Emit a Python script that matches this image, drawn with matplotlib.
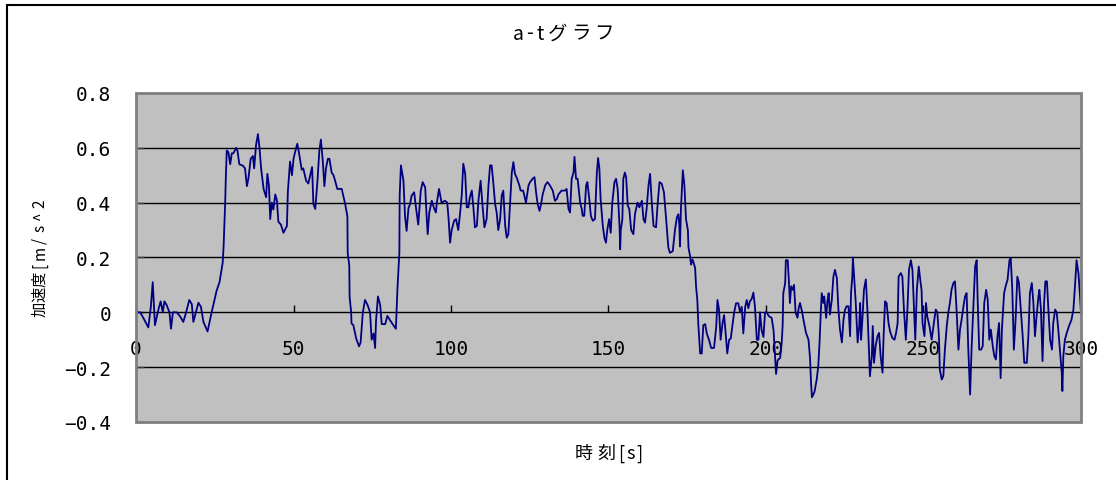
import matplotlib
matplotlib.use('Agg')
import matplotlib.pyplot as plt
from matplotlib.patches import Rectangle

plt.rcParams['font.family'] = ['Noto Sans CJK JP', 'DejaVu Sans']

# time [s] and acceleration [m/s^2]
t = [0.0, 1.3, 2.3, 3.9, 4.7, 5.3, 5.7, 6.0, 7.1, 7.8, 8.5, 9.0, 9.7, 10.6, 11.1, 11.7,
     12.9, 14.0, 15.0, 15.9, 16.9, 17.7, 18.2, 19.0, 19.8, 20.6, 21.4, 22.7, 24.0, 25.6,
     26.5, 27.5, 27.8, 28.3, 28.5, 28.8, 29.3, 29.9, 30.4, 30.9, 31.8, 32.2, 32.8, 33.9,
     34.6, 35.2, 35.7, 36.4, 37.1, 37.5, 38.1, 38.7, 39.2, 39.7, 40.5, 41.3, 41.7, 42.2,
     42.6, 43.1, 43.6, 44.2, 44.7, 45.2, 46.0, 46.8, 47.9, 48.2, 48.9, 49.5, 50.0, 50.5,
     51.2, 51.9, 52.6, 53.1, 54.0, 54.7, 55.5, 55.9, 56.3, 56.9, 57.6, 58.2, 58.7, 59.3,
     59.8, 60.3, 60.9, 61.4, 62.1, 62.7, 63.2, 63.9, 65.3, 66.4, 67.1, 67.2, 67.7, 67.8,
     68.3, 68.4, 69.0, 69.9, 70.8, 71.3, 72.0, 72.7, 73.5, 74.3, 74.8, 75.4, 75.9, 76.2,
     76.8, 77.5, 78.0, 79.1, 79.8, 80.6, 81.7, 82.5, 83.0, 83.4, 83.6, 83.7, 84.1, 84.9,
     85.4, 85.9, 86.5, 87.0, 87.5, 88.3, 88.9, 89.6, 90.4, 91.0, 91.8, 92.3, 92.6, 93.1,
     93.9, 94.6, 95.2, 95.5, 96.2, 97.0, 98.1, 98.8, 99.2, 99.7, 100.2, 101.0, 101.6, 102.3,
     102.9, 103.4, 103.9, 104.5, 105.0, 105.5, 106.0, 106.6, 107.1, 107.6, 108.2, 108.7,
     109.4, 110.0, 110.6, 111.3, 111.9, 112.4, 112.9, 113.5, 114.0, 114.5, 115.0, 115.6,
     116.1, 116.6, 117.2, 117.7, 118.2, 118.7, 119.3, 119.8, 120.3, 120.9, 121.7, 122.1,
     122.9, 123.8, 124.6, 125.1, 125.9, 126.5, 127.0, 127.5, 128.1, 128.6, 129.1, 129.9,
     130.6, 131.4, 132.3, 133.0, 133.6, 134.1, 135.1, 136.2, 136.7, 137.3, 137.8, 138.3,
     138.9, 139.2, 139.7, 140.2, 141.0, 141.5, 141.8, 142.3, 142.9, 143.3, 143.9, 144.4,
     145.0, 145.7, 146.3, 146.7, 147.1, 147.5, 148.2, 148.7, 149.2, 149.6, 150.2, 150.7,
     151.2, 151.9, 152.4, 152.9, 153.5, 153.7, 153.9, 154.4, 154.7, 155.2, 155.6, 156.1,
     156.6, 157.2, 157.9, 158.4, 159.2, 159.8, 160.6, 161.1, 161.6, 162.1, 162.7, 163.2,
     163.7, 164.3, 165.1, 165.6, 166.2, 166.9, 167.6, 168.3, 169.0, 169.5, 170.4, 171.1,
     171.7, 172.2, 172.5, 172.7, 173.0, 173.6, 174.1, 174.6, 175.2, 175.4, 175.9, 176.2,
     176.7, 177.5, 177.8, 178.2, 178.5, 179.1, 179.6, 180.1, 180.7, 181.2, 181.9, 182.6,
     183.5, 184.2, 184.6, 185.1, 185.6, 186.2, 186.7, 187.2, 187.7, 188.3, 188.8, 189.3,
     189.9, 190.5, 191.2, 191.8, 192.3, 192.8, 193.4, 193.9, 194.4, 194.9, 195.5, 196.0,
     196.5, 197.1, 197.6, 198.1, 198.6, 199.2, 199.7, 200.2, 201.0, 201.8, 202.4, 202.9,
     203.2, 203.7, 204.5, 205.0, 205.3, 205.5, 206.1, 206.3, 206.9, 207.3, 207.6, 208.0,
     208.5, 208.9, 209.4, 210.0, 210.4, 210.8, 211.5, 211.9, 212.7, 213.5, 214.0, 214.3,
     214.6, 215.4, 216.1, 216.6, 217.0, 217.4, 217.7, 218.2, 218.5, 219.1, 219.5, 219.9,
     220.3, 220.9, 221.4, 221.9, 222.5, 223.0, 223.5, 224.1, 224.6, 225.1, 225.6, 226.2,
     226.7, 227.0, 227.4, 227.6, 228.1, 228.5, 228.8, 229.1, 229.6, 229.9, 230.2, 230.6,
     231.1, 231.7, 232.2, 232.7, 233.0, 233.6, 233.9, 234.3, 234.8, 235.4, 235.9, 236.4,
     237.0, 237.3, 237.8, 238.3, 238.9, 239.4, 240.1, 240.8, 241.3, 241.8, 242.1, 242.8,
     243.3, 243.8, 244.4, 244.9, 245.4, 246.0, 246.5, 247.0, 247.4, 247.9, 248.5, 249.1,
     249.4, 249.7, 250.3, 250.8, 251.2, 251.9, 252.6, 253.3, 253.9, 254.4, 254.9, 255.2,
     255.8, 256.3, 256.8, 257.4, 257.9, 258.4, 258.9, 259.5, 260.0, 260.5, 261.1, 261.6,
     262.1, 262.7, 263.2, 263.7, 264.2, 264.8, 265.3, 265.8, 266.4, 266.9, 267.2, 267.7,
     268.3, 268.8, 269.3, 269.9, 270.4, 270.9, 271.4, 272.0, 272.5, 273.0, 273.5, 274.0,
     274.5, 274.9, 275.6, 276.2, 276.7, 277.3, 277.7, 278.2, 278.7, 279.3, 279.8, 280.3,
     280.9, 281.5, 282.0, 282.8, 283.3, 283.8, 284.4, 284.9, 285.4, 285.9, 286.5, 286.8,
     287.3, 287.8, 288.3, 288.7, 289.2, 289.6, 290.2, 290.8, 291.2, 291.8, 292.3, 292.8,
     293.3, 293.9, 294.1, 294.4, 294.9, 295.5, 296.2, 297.0, 297.6, 298.1, 298.6, 299.2,
     299.7, 300.0]

accel = [0.0, 0.0, -0.02, -0.055, 0.02, 0.11, 0.02, -0.047, 0.01, 0.04, 0.0, 0.04, 0.027, 0.0, -0.06, 0.0,
         0.0, -0.015, -0.035, 0.0, 0.045, 0.03, -0.035, 0.0, 0.035, 0.02, -0.035, -0.07, 0.0, 0.08,
         0.11, 0.18, 0.24, 0.40, 0.49, 0.59, 0.585, 0.54, 0.58, 0.58, 0.60, 0.59, 0.54, 0.535,
         0.525, 0.46, 0.49, 0.56, 0.57, 0.525, 0.61, 0.65, 0.60, 0.525, 0.45, 0.42, 0.505, 0.46,
         0.34, 0.40, 0.375, 0.43, 0.41, 0.33, 0.32, 0.29, 0.315, 0.44, 0.55, 0.50, 0.56, 0.585,
         0.615, 0.57, 0.52, 0.525, 0.48, 0.47, 0.51, 0.53, 0.395, 0.377, 0.48, 0.59, 0.63, 0.55,
         0.46, 0.525, 0.56, 0.56, 0.51, 0.50, 0.48, 0.45, 0.45, 0.395, 0.35, 0.217, 0.17, 0.058,
         0.0, -0.04, -0.047, -0.096, -0.124, -0.11, 0.0, 0.045, 0.027, 0.0, -0.10, -0.077, -0.13, -0.03,
         0.058, 0.027, -0.043, -0.043, -0.013, -0.028, -0.047, -0.06, 0.088, 0.17, 0.217, 0.426, 0.536, 0.48,
         0.35, 0.297, 0.38, 0.395, 0.426, 0.438, 0.38, 0.32, 0.444, 0.475, 0.456, 0.34, 0.285, 0.364,
         0.407, 0.38, 0.364, 0.40, 0.45, 0.40, 0.407, 0.40, 0.346, 0.254, 0.30, 0.334, 0.34, 0.30,
         0.364, 0.426, 0.542, 0.505, 0.383, 0.383, 0.42, 0.444, 0.383, 0.31, 0.315, 0.407,
         0.48, 0.39, 0.31, 0.34, 0.463, 0.536, 0.536, 0.463, 0.395, 0.364, 0.30, 0.34,
         0.426, 0.444, 0.315, 0.272, 0.285, 0.39, 0.51, 0.548, 0.505, 0.49, 0.463, 0.444,
         0.444, 0.40, 0.463, 0.475, 0.487, 0.493, 0.438, 0.395, 0.37, 0.395, 0.43, 0.463,
         0.475, 0.463, 0.444, 0.407, 0.413, 0.43, 0.444, 0.444, 0.45, 0.377, 0.364, 0.487,
         0.51, 0.567, 0.487, 0.487, 0.40, 0.377, 0.352, 0.352, 0.463, 0.475, 0.413, 0.352,
         0.334, 0.34, 0.51, 0.563, 0.524, 0.413, 0.315, 0.272, 0.254, 0.30, 0.34, 0.29,
         0.40, 0.475, 0.487, 0.45, 0.315, 0.23, 0.30, 0.34, 0.487, 0.51, 0.493, 0.39,
         0.377, 0.30, 0.285, 0.358, 0.40, 0.383, 0.407, 0.34, 0.327, 0.377, 0.463, 0.505,
         0.407, 0.315, 0.31, 0.395, 0.475, 0.469, 0.438, 0.34, 0.236, 0.217, 0.223, 0.30,
         0.346, 0.358, 0.315, 0.24, 0.377, 0.518, 0.463, 0.34, 0.30, 0.236, 0.205, 0.174,
         0.193, 0.162, 0.094, 0.045, -0.04, -0.15, -0.15, -0.047, -0.043, -0.077, -0.10, -0.13,
         -0.13, -0.053, 0.045, 0.009, -0.10, -0.04, -0.01, -0.077, -0.15, -0.10, -0.096, -0.053,
         0.0, 0.033, 0.033, 0.0, 0.02, -0.077, 0.02, 0.045, 0.015, 0.04, 0.05, 0.072,
         0.02, -0.10, -0.10, 0.0, -0.065, -0.09, 0.0, 0.0, -0.015, -0.02, -0.065, -0.163,
         -0.225, -0.175, -0.166, -0.11, -0.045, 0.07, 0.107, 0.19, 0.19, 0.107, 0.034, 0.095,
         0.082, 0.10, 0.0, -0.02, 0.016, 0.034, 0.0, -0.027, -0.075, -0.10, -0.17, -0.257,
         -0.31, -0.29, -0.245, -0.196, -0.11, 0.0, 0.07, 0.034, 0.058, -0.02, 0.04, 0.07,
         -0.008, 0.046, 0.13, 0.155, 0.125, 0.01, -0.063, -0.11, -0.027, 0.01, 0.022, 0.022,
         -0.087, 0.07, 0.13, 0.20, 0.107, 0.034, -0.039, -0.11, -0.05, 0.034, -0.10, -0.027,
         0.082, 0.12, 0.01, -0.136, -0.233, -0.16, -0.05, -0.184, -0.124, -0.087, -0.075, -0.16,
         -0.22, -0.10, 0.04, 0.034, -0.039, -0.07, -0.093, -0.10, -0.075, -0.039, 0.13, 0.143,
         0.13, 0.01, -0.10, 0.01, 0.155, 0.19, 0.155, 0.01, -0.10, 0.082, 0.167, 0.107,
         0.082, -0.039, -0.087, 0.034, -0.015, -0.05, -0.10, -0.039, 0.01, 0.0, -0.087, -0.21,
         -0.245, -0.233, -0.136, -0.05, 0.0, 0.034, 0.082, 0.107, 0.113, 0.01, -0.136, -0.063,
         -0.027, 0.022, 0.058, 0.07, -0.124, -0.30, -0.124, 0.01, 0.167, 0.19, 0.046, -0.136,
         -0.136, -0.124, 0.034, 0.082, 0.046, -0.10, -0.063, -0.124, -0.16, -0.172, -0.087, -0.039,
         -0.24, -0.063, 0.07, 0.10, 0.119, 0.19, 0.198, 0.082, -0.136, -0.015, 0.13, 0.107,
         0.01, -0.087, -0.184, -0.184, -0.087, 0.07, 0.107, 0.034, -0.087, -0.015, 0.058, 0.082,
         0.01, -0.178, 0.034, 0.113, 0.113, 0.022, -0.10, -0.136, -0.039, 0.01, 0.0, -0.063,
         -0.136, -0.22, -0.287, -0.16, -0.10, -0.075, -0.05, -0.027, 0.01, 0.095, 0.19, 0.143,
         0.058, 0.0]

xticks = [0, 50, 100, 150, 200, 250, 300]
yticks = [-0.4, -0.2, 0, 0.2, 0.4, 0.6, 0.8]
ytick_labels = ['−0.4', '−0.2', '0', '0.2', '0.4', '0.6', '0.8']
title = 'a-tグラフ'
xlabel = '時刻[s]'
ylabel = '加速度[m/s^2'  # cut off like this in the original

W, H = 1116, 481
fig = plt.figure(figsize=(W / 100, H / 100), dpi=100)
ax = fig.add_axes([0.1219, 0.1206, 0.8467, 0.684])
ax.set_facecolor('#c0c0c0')

for y in [-0.2, 0.2, 0.4, 0.6]:
    ax.axhline(y, color='black', lw=1.0, zorder=1)

ax.plot(t, accel, color='#000080', lw=1.3, zorder=3)

ax.set_xlim(0, 300)
ax.set_ylim(-0.4, 0.8)
ax.set_xticks(xticks)
ax.set_yticks(yticks)
ax.set_yticklabels(ytick_labels)

# x axis sits on the zero line, excel style
for s in ['top', 'right', 'left']:
    ax.spines[s].set_visible(False)
ax.spines['bottom'].set_position(('data', 0))
ax.spines['bottom'].set_color('black')
ax.spines['bottom'].set_linewidth(1.0)
ax.spines['bottom'].set_zorder(2)
ax.add_patch(Rectangle((0, 0), 1, 1, transform=ax.transAxes, fill=False,
                       edgecolor='#808080', lw=2.0, clip_on=False, zorder=4))

ax.tick_params(axis='x', direction='in', length=5, width=1, color='black',
               pad=19, labelsize=14)
ax.tick_params(axis='y', direction='in', length=6, width=1, color='#404040',
               pad=18, labelsize=14)
for lab in ax.get_xticklabels() + ax.get_yticklabels():
    lab.set_family('DejaVu Sans Mono')


def spaced_text(s, x0, y0, size, fw, hw, vertical=False):
    # excel style fixed pitch text: full width and half width cells
    pos = 0.0
    for ch in s:
        cell = fw if ord(ch) > 0x2E80 else hw
        c = pos + cell / 2
        if vertical:
            x, y, rot = x0, y0 - c, 90
        else:
            x, y, rot = x0 + c, y0, 0
        fig.text(x / W, 1 - y / H, ch, ha='center', va='center',
                 rotation=rot, fontsize=size)
        pos += cell


spaced_text(title, 513, 34, 14, 23, 11)
spaced_text(xlabel, 573, 454, 13, 22, 9)
spaced_text(ylabel, 40, 317, 11, 15, 12.4, vertical=True)

# outer chart frame
fig.patches.append(Rectangle((7 / W, -0.05), 1.1, (H - 6) / H + 0.05,
                             transform=fig.transFigure, fill=False,
                             edgecolor='black', lw=1.5))

fig.savefig('out.png', dpi=100)
